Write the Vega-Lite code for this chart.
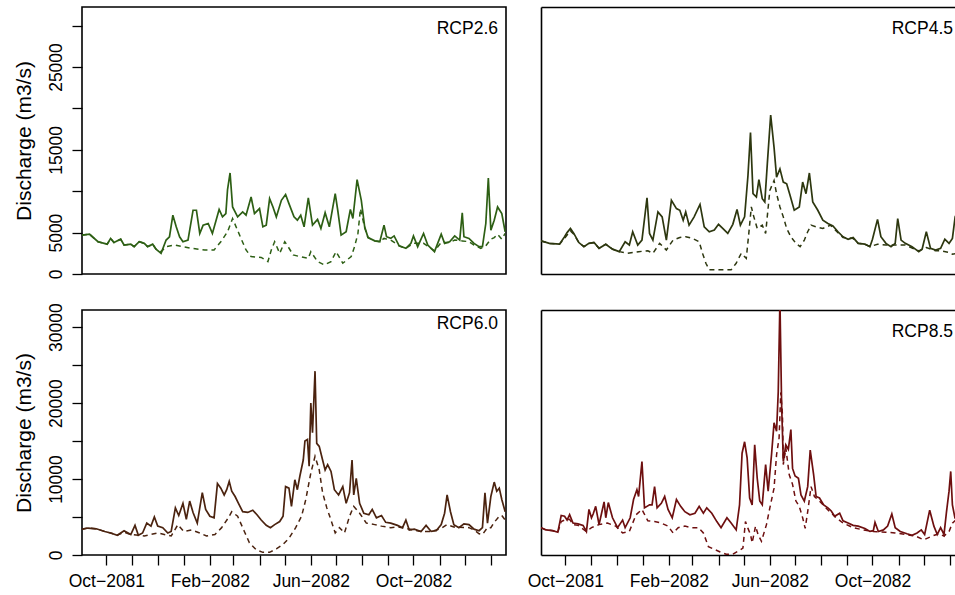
{
"$schema": "https://vega.github.io/schema/vega-lite/v6.json",
"padding": {"left": 12, "top": 6, "right": 0, "bottom": 0},
"datasets": {
"s26": [
{"d":"2081-09-02","v":4700},{"d":"2081-09-11","v":4800},{"d":"2081-09-21","v":3900},{"d":"2081-10-02","v":3600},{"d":"2081-10-06","v":4300},{"d":"2081-10-10","v":3800},{"d":"2081-10-18","v":4200},{"d":"2081-10-22","v":3500},{"d":"2081-10-30","v":3600},{"d":"2081-11-03","v":3300},{"d":"2081-11-09","v":3900},{"d":"2081-11-15","v":3700},{"d":"2081-11-19","v":3300},{"d":"2081-11-25","v":3600},{"d":"2081-11-29","v":3000},{"d":"2081-12-05","v":2500},{"d":"2081-12-11","v":4100},{"d":"2081-12-15","v":4500},{"d":"2081-12-19","v":7100},{"d":"2081-12-23","v":5700},{"d":"2081-12-27","v":4500},{"d":"2081-12-31","v":3900},
{"d":"2082-01-06","v":4100},{"d":"2082-01-12","v":7700},{"d":"2082-01-16","v":7700},{"d":"2082-01-20","v":4900},{"d":"2082-01-24","v":5900},{"d":"2082-01-30","v":6100},{"d":"2082-02-04","v":4900},{"d":"2082-02-12","v":7800},{"d":"2082-02-16","v":6900},{"d":"2082-02-20","v":7300},{"d":"2082-02-22","v":10200},{"d":"2082-02-25","v":12200},{"d":"2082-02-28","v":8100},{"d":"2082-03-06","v":6900},{"d":"2082-03-12","v":7500},{"d":"2082-03-16","v":7100},{"d":"2082-03-22","v":9300},{"d":"2082-03-26","v":7300},{"d":"2082-04-01","v":7900},{"d":"2082-04-05","v":5700},{"d":"2082-04-09","v":5900},{"d":"2082-04-13","v":9100},{"d":"2082-04-17","v":8100},{"d":"2082-04-21","v":6900},{"d":"2082-04-27","v":8900},{"d":"2082-05-02","v":9600},{"d":"2082-05-06","v":8500},{"d":"2082-05-12","v":6900},{"d":"2082-05-16","v":6500},{"d":"2082-05-20","v":7100},{"d":"2082-05-24","v":5700},{"d":"2082-05-29","v":9200},{"d":"2082-06-03","v":5900},{"d":"2082-06-09","v":6600},{"d":"2082-06-13","v":5500},{"d":"2082-06-18","v":7400},{"d":"2082-06-23","v":5700},{"d":"2082-06-30","v":9700},{"d":"2082-07-03","v":7700},{"d":"2082-07-07","v":4700},{"d":"2082-07-13","v":5100},{"d":"2082-07-18","v":7800},{"d":"2082-07-21","v":6700},{"d":"2082-07-26","v":11400},{"d":"2082-07-31","v":8900},{"d":"2082-08-04","v":5700},{"d":"2082-08-08","v":4400},{"d":"2082-08-16","v":4000},{"d":"2082-08-22","v":3900},{"d":"2082-08-27","v":5900},{"d":"2082-08-30","v":4500},{"d":"2082-09-04","v":4300},{"d":"2082-09-08","v":4600},{"d":"2082-09-14","v":3400},{"d":"2082-09-22","v":3100},{"d":"2082-09-28","v":3700},{"d":"2082-10-01","v":4600},{"d":"2082-10-06","v":3300},{"d":"2082-10-13","v":4900},{"d":"2082-10-18","v":3500},{"d":"2082-10-26","v":2700},{"d":"2082-11-03","v":4800},{"d":"2082-11-07","v":3700},{"d":"2082-11-13","v":3900},{"d":"2082-11-19","v":4600},{"d":"2082-11-25","v":4100},{"d":"2082-11-28","v":7400},{"d":"2082-11-30","v":4500},{"d":"2082-12-06","v":4300},{"d":"2082-12-12","v":3700},{"d":"2082-12-18","v":3300},{"d":"2082-12-22","v":3300},{"d":"2082-12-26","v":6100},{"d":"2082-12-29","v":11600},{"d":"2083-01-01","v":5300},{"d":"2083-01-05","v":6500},{"d":"2083-01-09","v":8100},{"d":"2083-01-14","v":7300},{"d":"2083-01-18","v":5100}
],
"d26": [
{"d":"2081-09-02","v":4700},{"d":"2081-09-11","v":4800},{"d":"2081-09-21","v":3900},{"d":"2081-10-02","v":3600},{"d":"2081-10-06","v":4300},{"d":"2081-10-10","v":3800},{"d":"2081-10-18","v":4200},{"d":"2081-10-22","v":3500},{"d":"2081-10-30","v":3600},{"d":"2081-11-03","v":3300},{"d":"2081-11-09","v":3900},{"d":"2081-11-15","v":3700},{"d":"2081-11-19","v":3300},{"d":"2081-11-25","v":3600},{"d":"2081-11-29","v":3000},{"d":"2081-12-05","v":2700},{"d":"2081-12-11","v":3300},{"d":"2081-12-21","v":3500},{"d":"2082-01-10","v":3100},{"d":"2082-01-26","v":2900},{"d":"2082-02-06","v":2900},{"d":"2082-02-14","v":3900},{"d":"2082-02-22","v":5100},{"d":"2082-02-28","v":6700},{"d":"2082-03-10","v":4300},{"d":"2082-03-16","v":2900},{"d":"2082-03-22","v":2100},{"d":"2082-04-03","v":2000},{"d":"2082-04-11","v":1500},{"d":"2082-04-15","v":2900},{"d":"2082-04-19","v":3900},{"d":"2082-04-25","v":2500},{"d":"2082-05-01","v":3900},{"d":"2082-05-05","v":3300},{"d":"2082-05-11","v":2300},{"d":"2082-05-19","v":2100},{"d":"2082-05-29","v":1900},{"d":"2082-06-01","v":2700},{"d":"2082-06-09","v":1500},{"d":"2082-06-17","v":1100},{"d":"2082-06-25","v":1500},{"d":"2082-07-01","v":2700},{"d":"2082-07-09","v":1300},{"d":"2082-07-19","v":2100},{"d":"2082-07-23","v":3300},{"d":"2082-07-27","v":4900},{"d":"2082-07-30","v":7900},{"d":"2082-08-04","v":5600},{"d":"2082-08-08","v":4400},{"d":"2082-08-16","v":4000},{"d":"2082-08-22","v":3900},{"d":"2082-08-27","v":4300},{"d":"2082-09-04","v":4100},{"d":"2082-09-14","v":3400},{"d":"2082-09-22","v":3100},{"d":"2082-10-01","v":3700},{"d":"2082-10-13","v":3700},{"d":"2082-10-26","v":2800},{"d":"2082-11-03","v":3800},{"d":"2082-11-13","v":3800},{"d":"2082-11-19","v":4100},{"d":"2082-11-28","v":4000},{"d":"2082-12-06","v":3900},{"d":"2082-12-12","v":3500},{"d":"2082-12-20","v":3100},{"d":"2082-12-26","v":3400},{"d":"2083-01-01","v":4200},{"d":"2083-01-05","v":4400},{"d":"2083-01-09","v":4800},{"d":"2083-01-14","v":4200},{"d":"2083-01-18","v":4900}
],
"s45": [
{"d":"2081-09-02","v":4000},{"d":"2081-09-12","v":3700},{"d":"2081-09-24","v":3600},{"d":"2081-09-30","v":4500},{"d":"2081-10-03","v":5000},{"d":"2081-10-07","v":5500},{"d":"2081-10-11","v":4900},{"d":"2081-10-17","v":3800},{"d":"2081-10-23","v":3300},{"d":"2081-10-29","v":3700},{"d":"2081-11-04","v":3800},{"d":"2081-11-10","v":3100},{"d":"2081-11-18","v":3600},{"d":"2081-11-26","v":3000},{"d":"2081-12-04","v":2700},{"d":"2081-12-11","v":3900},{"d":"2081-12-16","v":3500},{"d":"2081-12-20","v":5100},{"d":"2081-12-26","v":3500},{"d":"2081-12-31","v":4100},{"d":"2082-01-06","v":9200},{"d":"2082-01-09","v":4900},{"d":"2082-01-13","v":4100},{"d":"2082-01-19","v":7500},{"d":"2082-01-24","v":6900},{"d":"2082-01-29","v":4100},{"d":"2082-02-04","v":8900},{"d":"2082-02-10","v":7900},{"d":"2082-02-14","v":7700},{"d":"2082-02-18","v":6500},{"d":"2082-02-21","v":7500},{"d":"2082-02-25","v":5900},{"d":"2082-03-03","v":6900},{"d":"2082-03-10","v":8400},{"d":"2082-03-15","v":5700},{"d":"2082-03-21","v":5100},{"d":"2082-03-27","v":5300},{"d":"2082-04-01","v":6000},{"d":"2082-04-06","v":5500},{"d":"2082-04-12","v":4900},{"d":"2082-04-18","v":6000},{"d":"2082-04-23","v":7800},{"d":"2082-04-27","v":5900},{"d":"2082-05-02","v":6900},{"d":"2082-05-06","v":11900},{"d":"2082-05-09","v":17100},{"d":"2082-05-12","v":9700},{"d":"2082-05-16","v":9300},{"d":"2082-05-19","v":11400},{"d":"2082-05-23","v":9100},{"d":"2082-05-26","v":8700},{"d":"2082-05-29","v":13300},{"d":"2082-06-02","v":19200},{"d":"2082-06-06","v":15300},{"d":"2082-06-09","v":11700},{"d":"2082-06-13","v":12700},{"d":"2082-06-17","v":11100},{"d":"2082-06-21","v":10900},{"d":"2082-06-25","v":9500},{"d":"2082-06-30","v":7700},{"d":"2082-07-06","v":8100},{"d":"2082-07-10","v":11100},{"d":"2082-07-14","v":9700},{"d":"2082-07-18","v":12200},{"d":"2082-07-22","v":8700},{"d":"2082-07-28","v":7700},{"d":"2082-08-03","v":6500},{"d":"2082-08-09","v":6100},{"d":"2082-08-15","v":5800},{"d":"2082-08-21","v":5100},{"d":"2082-08-27","v":4500},{"d":"2082-09-02","v":4200},{"d":"2082-09-08","v":4400},{"d":"2082-09-14","v":3700},{"d":"2082-09-22","v":3600},{"d":"2082-09-28","v":3300},{"d":"2082-10-01","v":4200},{"d":"2082-10-07","v":6600},{"d":"2082-10-11","v":4500},{"d":"2082-10-17","v":3700},{"d":"2082-10-23","v":3300},{"d":"2082-10-28","v":3700},{"d":"2082-10-31","v":6700},{"d":"2082-11-04","v":4100},{"d":"2082-11-09","v":3700},{"d":"2082-11-17","v":3300},{"d":"2082-11-25","v":2700},{"d":"2082-11-29","v":3000},{"d":"2082-12-04","v":5100},{"d":"2082-12-09","v":3100},{"d":"2082-12-15","v":2900},{"d":"2082-12-21","v":3100},{"d":"2082-12-26","v":4200},{"d":"2082-12-31","v":3700},{"d":"2083-01-04","v":4300},{"d":"2083-01-07","v":6700},{"d":"2083-01-12","v":5500},{"d":"2083-01-18","v":5000}
],
"d45": [
{"d":"2081-09-02","v":4000},{"d":"2081-09-12","v":3700},{"d":"2081-09-24","v":3600},{"d":"2081-09-30","v":4300},{"d":"2081-10-03","v":4700},{"d":"2081-10-07","v":5200},{"d":"2081-10-11","v":4800},{"d":"2081-10-17","v":3800},{"d":"2081-10-23","v":3300},{"d":"2081-10-29","v":3700},{"d":"2081-11-04","v":3800},{"d":"2081-11-10","v":3100},{"d":"2081-11-18","v":3600},{"d":"2081-11-26","v":3000},{"d":"2081-12-04","v":2700},{"d":"2081-12-14","v":2500},{"d":"2081-12-27","v":2700},{"d":"2082-01-07","v":2800},{"d":"2082-01-13","v":2500},{"d":"2082-01-21","v":3700},{"d":"2082-01-29","v":2900},{"d":"2082-02-06","v":4100},{"d":"2082-02-14","v":4400},{"d":"2082-02-21","v":4500},{"d":"2082-03-01","v":4300},{"d":"2082-03-09","v":3900},{"d":"2082-03-13","v":2500},{"d":"2082-03-17","v":1300},{"d":"2082-03-21","v":500},{"d":"2082-03-29","v":500},{"d":"2082-04-06","v":500},{"d":"2082-04-16","v":500},{"d":"2082-04-22","v":1300},{"d":"2082-04-28","v":2500},{"d":"2082-05-04","v":1900},{"d":"2082-05-07","v":4900},{"d":"2082-05-10","v":8100},{"d":"2082-05-13","v":6900},{"d":"2082-05-17","v":5500},{"d":"2082-05-23","v":5900},{"d":"2082-05-27","v":4900},{"d":"2082-06-01","v":10100},{"d":"2082-06-06","v":11300},{"d":"2082-06-09","v":9700},{"d":"2082-06-13","v":8100},{"d":"2082-06-17","v":6900},{"d":"2082-06-21","v":5500},{"d":"2082-06-26","v":4500},{"d":"2082-07-02","v":3700},{"d":"2082-07-07","v":3300},{"d":"2082-07-12","v":4100},{"d":"2082-07-16","v":5100},{"d":"2082-07-20","v":5900},{"d":"2082-07-26","v":5700},{"d":"2082-08-03","v":5500},{"d":"2082-08-12","v":5900},{"d":"2082-08-21","v":5000},{"d":"2082-08-27","v":4400},{"d":"2082-09-08","v":4300},{"d":"2082-09-14","v":3700},{"d":"2082-09-22","v":3600},{"d":"2082-09-28","v":3300},{"d":"2082-10-07","v":3600},{"d":"2082-10-17","v":3500},{"d":"2082-10-28","v":3500},{"d":"2082-11-09","v":3500},{"d":"2082-11-25","v":2800},{"d":"2082-12-04","v":3200},{"d":"2082-12-15","v":2800},{"d":"2082-12-21","v":2800},{"d":"2082-12-31","v":2600},{"d":"2083-01-04","v":2400},{"d":"2083-01-12","v":2500},{"d":"2083-01-18","v":2600}
],
"s60": [
{"d":"2081-09-02","v":3400},{"d":"2081-09-09","v":3550},{"d":"2081-09-19","v":3450},{"d":"2081-09-29","v":3100},{"d":"2081-10-06","v":2900},{"d":"2081-10-14","v":2600},{"d":"2081-10-22","v":3200},{"d":"2081-10-30","v":2700},{"d":"2081-11-04","v":3900},{"d":"2081-11-08","v":2600},{"d":"2081-11-13","v":2900},{"d":"2081-11-18","v":4200},{"d":"2081-11-23","v":3800},{"d":"2081-11-27","v":5000},{"d":"2081-12-01","v":3800},{"d":"2081-12-07","v":3600},{"d":"2081-12-13","v":2900},{"d":"2081-12-17","v":3100},{"d":"2081-12-22","v":6200},{"d":"2081-12-26","v":5200},{"d":"2081-12-31","v":6800},{"d":"2082-01-04","v":4700},{"d":"2082-01-08","v":7100},{"d":"2082-01-12","v":5600},{"d":"2082-01-17","v":4200},{"d":"2082-01-23","v":8200},{"d":"2082-01-27","v":6000},{"d":"2082-02-01","v":5100},{"d":"2082-02-06","v":4900},{"d":"2082-02-10","v":9400},{"d":"2082-02-14","v":8800},{"d":"2082-02-18","v":7900},{"d":"2082-02-21","v":8600},{"d":"2082-02-24","v":9700},{"d":"2082-02-27","v":8400},{"d":"2082-03-03","v":7700},{"d":"2082-03-07","v":6800},{"d":"2082-03-12","v":5700},{"d":"2082-03-18","v":5600},{"d":"2082-03-24","v":5900},{"d":"2082-03-29","v":5300},{"d":"2082-04-03","v":4600},{"d":"2082-04-09","v":3900},{"d":"2082-04-14","v":3600},{"d":"2082-04-19","v":4000},{"d":"2082-04-25","v":4400},{"d":"2082-04-29","v":5100},{"d":"2082-05-02","v":9000},{"d":"2082-05-06","v":8800},{"d":"2082-05-09","v":6400},{"d":"2082-05-13","v":9900},{"d":"2082-05-16","v":8600},{"d":"2082-05-19","v":10400},{"d":"2082-05-23","v":12500},{"d":"2082-05-25","v":15000},{"d":"2082-05-28","v":15200},{"d":"2082-05-30","v":11700},{"d":"2082-06-01","v":20000},{"d":"2082-06-03","v":16100},{"d":"2082-06-06","v":24200},{"d":"2082-06-08","v":14700},{"d":"2082-06-11","v":14300},{"d":"2082-06-15","v":12500},{"d":"2082-06-18","v":11200},{"d":"2082-06-21","v":11900},{"d":"2082-06-25","v":11000},{"d":"2082-06-29","v":8600},{"d":"2082-07-04","v":7900},{"d":"2082-07-09","v":9000},{"d":"2082-07-13","v":6800},{"d":"2082-07-17","v":8200},{"d":"2082-07-20","v":12500},{"d":"2082-07-22","v":7900},{"d":"2082-07-25","v":10100},{"d":"2082-07-29","v":6800},{"d":"2082-08-03","v":5500},{"d":"2082-08-09","v":5300},{"d":"2082-08-13","v":6000},{"d":"2082-08-18","v":4900},{"d":"2082-08-24","v":5200},{"d":"2082-08-29","v":4300},{"d":"2082-09-04","v":4200},{"d":"2082-09-12","v":3900},{"d":"2082-09-18","v":3600},{"d":"2082-09-22","v":4600},{"d":"2082-09-26","v":3300},{"d":"2082-10-02","v":3400},{"d":"2082-10-10","v":3100},{"d":"2082-10-16","v":3900},{"d":"2082-10-22","v":3100},{"d":"2082-10-28","v":3200},{"d":"2082-11-03","v":4000},{"d":"2082-11-07","v":5500},{"d":"2082-11-10","v":7900},{"d":"2082-11-14","v":5700},{"d":"2082-11-18","v":4000},{"d":"2082-11-24","v":3600},{"d":"2082-11-30","v":4100},{"d":"2082-12-06","v":4000},{"d":"2082-12-12","v":3400},{"d":"2082-12-18","v":3200},{"d":"2082-12-22","v":3600},{"d":"2082-12-25","v":8200},{"d":"2082-12-28","v":4200},{"d":"2083-01-01","v":7700},{"d":"2083-01-05","v":9600},{"d":"2083-01-08","v":8400},{"d":"2083-01-11","v":8800},{"d":"2083-01-14","v":7300},{"d":"2083-01-18","v":5700}
],
"d60": [
{"d":"2081-09-02","v":3400},{"d":"2081-09-09","v":3550},{"d":"2081-09-19","v":3450},{"d":"2081-09-29","v":3100},{"d":"2081-10-06","v":2900},{"d":"2081-10-14","v":2600},{"d":"2081-10-22","v":3000},{"d":"2081-10-30","v":2700},{"d":"2081-11-08","v":2600},{"d":"2081-11-15","v":2500},{"d":"2081-12-01","v":2900},{"d":"2081-12-17","v":2500},{"d":"2081-12-25","v":4000},{"d":"2082-01-01","v":3100},{"d":"2082-01-10","v":3300},{"d":"2082-01-20","v":2900},{"d":"2082-01-28","v":2500},{"d":"2082-02-07","v":2700},{"d":"2082-02-15","v":3600},{"d":"2082-02-23","v":4900},{"d":"2082-02-27","v":5700},{"d":"2082-03-06","v":5100},{"d":"2082-03-14","v":3100},{"d":"2082-03-20","v":1600},{"d":"2082-03-28","v":700},{"d":"2082-04-05","v":350},{"d":"2082-04-13","v":350},{"d":"2082-04-21","v":800},{"d":"2082-04-29","v":1400},{"d":"2082-05-06","v":2200},{"d":"2082-05-14","v":3600},{"d":"2082-05-21","v":5100},{"d":"2082-05-26","v":7300},{"d":"2082-06-01","v":10800},{"d":"2082-06-06","v":13000},{"d":"2082-06-11","v":11200},{"d":"2082-06-15","v":8200},{"d":"2082-06-20","v":6200},{"d":"2082-06-25","v":4600},{"d":"2082-06-30","v":2900},{"d":"2082-07-05","v":3600},{"d":"2082-07-11","v":2900},{"d":"2082-07-17","v":5100},{"d":"2082-07-22","v":6400},{"d":"2082-07-29","v":5500},{"d":"2082-08-06","v":4200},{"d":"2082-08-16","v":4000},{"d":"2082-08-24","v":3800},{"d":"2082-09-04","v":3600},{"d":"2082-09-12","v":3700},{"d":"2082-09-22","v":3500},{"d":"2082-10-10","v":3100},{"d":"2082-10-22","v":3100},{"d":"2082-11-03","v":3500},{"d":"2082-11-10","v":4000},{"d":"2082-11-18","v":3700},{"d":"2082-12-06","v":3600},{"d":"2082-12-12","v":3300},{"d":"2082-12-18","v":2800},{"d":"2082-12-22","v":2700},{"d":"2082-12-28","v":3600},{"d":"2083-01-01","v":3600},{"d":"2083-01-05","v":4300},{"d":"2083-01-11","v":5100},{"d":"2083-01-14","v":5200},{"d":"2083-01-18","v":4600}
],
"s85": [
{"d":"2081-09-02","v":3600},{"d":"2081-09-08","v":3300},{"d":"2081-09-16","v":3200},{"d":"2081-09-22","v":3000},{"d":"2081-09-26","v":5200},{"d":"2081-09-30","v":5100},{"d":"2081-10-03","v":4600},{"d":"2081-10-06","v":5300},{"d":"2081-10-10","v":4200},{"d":"2081-10-16","v":4100},{"d":"2081-10-22","v":3900},{"d":"2081-10-26","v":3100},{"d":"2081-10-29","v":6000},{"d":"2081-11-01","v":4900},{"d":"2081-11-03","v":5400},{"d":"2081-11-06","v":6400},{"d":"2081-11-10","v":4000},{"d":"2081-11-13","v":5500},{"d":"2081-11-16","v":7000},{"d":"2081-11-18","v":4900},{"d":"2081-11-21","v":6900},{"d":"2081-11-26","v":4900},{"d":"2081-12-02","v":3600},{"d":"2081-12-08","v":4600},{"d":"2081-12-11","v":3600},{"d":"2081-12-17","v":4900},{"d":"2081-12-21","v":7300},{"d":"2081-12-25","v":8600},{"d":"2081-12-27","v":7700},{"d":"2081-12-31","v":12300},{"d":"2082-01-03","v":6200},{"d":"2082-01-09","v":6600},{"d":"2082-01-12","v":6600},{"d":"2082-01-15","v":9000},{"d":"2082-01-18","v":6200},{"d":"2082-01-23","v":6800},{"d":"2082-01-27","v":7700},{"d":"2082-01-31","v":6000},{"d":"2082-02-05","v":4900},{"d":"2082-02-10","v":7300},{"d":"2082-02-15","v":6400},{"d":"2082-02-20","v":5700},{"d":"2082-02-26","v":5300},{"d":"2082-03-04","v":5500},{"d":"2082-03-09","v":6400},{"d":"2082-03-14","v":5500},{"d":"2082-03-18","v":6200},{"d":"2082-03-24","v":5500},{"d":"2082-03-30","v":4400},{"d":"2082-04-04","v":3600},{"d":"2082-04-11","v":4900},{"d":"2082-04-16","v":4200},{"d":"2082-04-22","v":3300},{"d":"2082-04-26","v":6600},{"d":"2082-04-29","v":13400},{"d":"2082-05-02","v":14900},{"d":"2082-05-05","v":12800},{"d":"2082-05-08","v":7500},{"d":"2082-05-11","v":6600},{"d":"2082-05-14","v":14500},{"d":"2082-05-17","v":10100},{"d":"2082-05-20","v":7100},{"d":"2082-05-23","v":6600},{"d":"2082-05-27","v":11900},{"d":"2082-05-30","v":8400},{"d":"2082-06-03","v":13200},{"d":"2082-06-06","v":17400},{"d":"2082-06-09","v":16300},{"d":"2082-06-11","v":21500},{"d":"2082-06-13","v":33500},{"d":"2082-06-15","v":19800},{"d":"2082-06-17","v":12300},{"d":"2082-06-20","v":14500},{"d":"2082-06-23","v":13900},{"d":"2082-06-26","v":16500},{"d":"2082-06-28","v":11400},{"d":"2082-07-01","v":10400},{"d":"2082-07-05","v":10100},{"d":"2082-07-08","v":7900},{"d":"2082-07-12","v":7100},{"d":"2082-07-16","v":9000},{"d":"2082-07-19","v":13800},{"d":"2082-07-23","v":10600},{"d":"2082-07-26","v":7700},{"d":"2082-07-30","v":7500},{"d":"2082-08-04","v":6600},{"d":"2082-08-09","v":6200},{"d":"2082-08-13","v":5800},{"d":"2082-08-17","v":5100},{"d":"2082-08-23","v":5500},{"d":"2082-08-27","v":4500},{"d":"2082-09-02","v":4200},{"d":"2082-09-08","v":3900},{"d":"2082-09-14","v":3800},{"d":"2082-09-22","v":3500},{"d":"2082-09-28","v":3100},{"d":"2082-10-02","v":3200},{"d":"2082-10-04","v":4300},{"d":"2082-10-08","v":3100},{"d":"2082-10-14","v":3300},{"d":"2082-10-19","v":3800},{"d":"2082-10-24","v":5400},{"d":"2082-10-28","v":3600},{"d":"2082-11-03","v":3100},{"d":"2082-11-11","v":2800},{"d":"2082-11-17","v":2600},{"d":"2082-11-23","v":2900},{"d":"2082-11-28","v":3300},{"d":"2082-12-02","v":2700},{"d":"2082-12-08","v":5900},{"d":"2082-12-13","v":3800},{"d":"2082-12-17","v":2700},{"d":"2082-12-21","v":3600},{"d":"2082-12-25","v":2700},{"d":"2082-12-28","v":5700},{"d":"2082-12-31","v":8400},{"d":"2083-01-02","v":11000},{"d":"2083-01-04","v":6600},{"d":"2083-01-07","v":4900},{"d":"2083-01-12","v":5000},{"d":"2083-01-18","v":4500}
],
"d85": [
{"d":"2081-09-02","v":3600},{"d":"2081-09-08","v":3300},{"d":"2081-09-16","v":3200},{"d":"2081-09-22","v":3000},{"d":"2081-09-26","v":4400},{"d":"2081-09-30","v":4600},{"d":"2081-10-06","v":4700},{"d":"2081-10-10","v":4000},{"d":"2081-10-16","v":3900},{"d":"2081-10-26","v":3100},{"d":"2081-11-01","v":3600},{"d":"2081-11-10","v":4000},{"d":"2081-11-20","v":4200},{"d":"2081-11-30","v":3800},{"d":"2081-12-08","v":2900},{"d":"2081-12-16","v":3100},{"d":"2081-12-24","v":5300},{"d":"2081-12-31","v":6000},{"d":"2082-01-07","v":4500},{"d":"2082-01-15","v":4400},{"d":"2082-01-23","v":4200},{"d":"2082-01-31","v":3800},{"d":"2082-02-06","v":2900},{"d":"2082-02-12","v":3600},{"d":"2082-02-20","v":3800},{"d":"2082-02-28","v":3600},{"d":"2082-03-08","v":3600},{"d":"2082-03-14","v":2900},{"d":"2082-03-20","v":1100},{"d":"2082-03-26","v":800},{"d":"2082-04-03","v":400},{"d":"2082-04-10","v":100},{"d":"2082-04-18","v":100},{"d":"2082-04-24","v":500},{"d":"2082-04-30","v":900},{"d":"2082-05-03","v":4400},{"d":"2082-05-06","v":3500},{"d":"2082-05-09","v":2700},{"d":"2082-05-11","v":1600},{"d":"2082-05-15","v":3800},{"d":"2082-05-18","v":2700},{"d":"2082-05-22","v":1800},{"d":"2082-05-28","v":4000},{"d":"2082-06-01","v":6200},{"d":"2082-06-06","v":8800},{"d":"2082-06-09","v":13200},{"d":"2082-06-12","v":15400},{"d":"2082-06-14","v":21400},{"d":"2082-06-16","v":18500},{"d":"2082-06-17","v":11900},{"d":"2082-06-20","v":14100},{"d":"2082-06-24","v":10600},{"d":"2082-06-28","v":9300},{"d":"2082-07-02","v":7100},{"d":"2082-07-06","v":6400},{"d":"2082-07-10","v":4900},{"d":"2082-07-13","v":3500},{"d":"2082-07-16","v":5700},{"d":"2082-07-20","v":9000},{"d":"2082-07-24","v":7700},{"d":"2082-07-30","v":7100},{"d":"2082-08-05","v":6400},{"d":"2082-08-11","v":5700},{"d":"2082-08-19","v":4900},{"d":"2082-08-27","v":4200},{"d":"2082-09-08","v":3600},{"d":"2082-09-20","v":3300},{"d":"2082-10-02","v":3100},{"d":"2082-10-17","v":3000},{"d":"2082-10-28","v":2900},{"d":"2082-11-09","v":2700},{"d":"2082-11-21","v":2500},{"d":"2082-12-01","v":2000},{"d":"2082-12-11","v":2500},{"d":"2082-12-19","v":2800},{"d":"2082-12-25","v":2500},{"d":"2082-12-31","v":3100},{"d":"2083-01-04","v":4200},{"d":"2083-01-08","v":4600},{"d":"2083-01-12","v":4400},{"d":"2083-01-18","v":4000}
]
},
"concat": [
{
"width": 424, "height": 267,
"title": {"text": "RCP2.6", "offset": -30, "dx": -8},
"encoding": {
"x": {"field": "d", "type": "temporal", "scale": {"type": "utc", "nice": false, "domain": [{"year": 2081, "month": 9, "date": 2, "utc": true}, {"year": 2083, "month": 1, "date": 19, "utc": true}]}, "axis": null},
"y": {"field": "v", "type": "quantitative", "scale": {"domain": [0, 32250], "nice": false}, "axis": {"title": "Discharge (m3/s)", "values": [0, 5000, 10000, 15000, 20000, 25000, 30000], "format": "d", "labelExpr": "datum.value == 0 || datum.value % 10000 == 5000 ? datum.label : ''"}}
},
"layer": [
{"data": {"name": "d26"}, "mark": {"type": "line", "color": "#2d5f14", "strokeWidth": 1.5, "strokeDash": [5, 4], "clip": true}},
{"data": {"name": "s26"}, "mark": {"type": "line", "color": "#2d5f14", "strokeWidth": 1.7, "clip": true}}
]
},
{
"width": 414, "height": 267,
"view": {"stroke": null},
"title": {"text": "RCP4.5", "offset": -30, "dx": -2},
"encoding": {
"y": {"field": "v", "type": "quantitative", "scale": {"domain": [0, 32250], "nice": false}, "axis": {"domain": true, "ticks": false, "labels": false, "title": null}}
},
"layer": [
{"data": {"name": "d45"}, "mark": {"type": "line", "color": "#2d370f", "strokeWidth": 1.5, "strokeDash": [5, 4], "clip": true},
 "encoding": {"x": {"field": "d", "type": "temporal", "scale": {"type": "utc", "nice": false, "domain": [{"year": 2081, "month": 9, "date": 2, "utc": true}, {"year": 2083, "month": 1, "date": 7, "hours": 2, "utc": true}]}, "axis": {"orient": "top", "domain": true, "ticks": false, "labels": false, "title": null}}}},
{"data": {"name": "s45"}, "mark": {"type": "line", "color": "#2d370f", "strokeWidth": 1.7, "clip": true},
 "encoding": {"x": {"field": "d", "type": "temporal", "scale": {"type": "utc", "nice": false, "domain": [{"year": 2081, "month": 9, "date": 2, "utc": true}, {"year": 2083, "month": 1, "date": 7, "hours": 2, "utc": true}]}, "axis": {"orient": "bottom", "domain": true, "ticks": false, "labels": false, "title": null}}}}
],
"resolve": {"axis": {"x": "independent"}}
},
{
"width": 424, "height": 245,
"title": {"text": "RCP6.0", "offset": -30, "dx": -8},
"encoding": {
"x": {"field": "d", "type": "temporal", "scale": {"type": "utc", "nice": false, "domain": [{"year": 2081, "month": 9, "date": 2, "utc": true}, {"year": 2083, "month": 1, "date": 19, "utc": true}]}, "axis": {"title": null, "tickCount": {"interval": "month", "step": 1}, "labelExpr": "utcmonth(datum.value) % 4 == 1 ? utcFormat(datum.value, '%b\u2212%Y') : ''"}},
"y": {"field": "v", "type": "quantitative", "scale": {"domain": [0, 32250], "nice": false}, "axis": {"title": "Discharge (m3/s)", "values": [0, 5000, 10000, 15000, 20000, 25000, 30000], "format": "d", "labelExpr": "datum.value % 10000 == 0 ? datum.label : ''"}}
},
"layer": [
{"data": {"name": "d60"}, "mark": {"type": "line", "color": "#4b230f", "strokeWidth": 1.5, "strokeDash": [5, 4], "clip": true}},
{"data": {"name": "s60"}, "mark": {"type": "line", "color": "#4b230f", "strokeWidth": 1.7, "clip": true}}
]
},
{
"width": 414, "height": 245,
"view": {"stroke": null},
"title": {"text": "RCP8.5", "offset": -30, "dx": -2},
"encoding": {
"y": {"field": "v", "type": "quantitative", "scale": {"domain": [0, 32250], "nice": false}, "axis": {"domain": true, "ticks": false, "labels": false, "title": null}}
},
"layer": [
{"data": {"name": "d85"}, "mark": {"type": "line", "color": "#6e0f0f", "strokeWidth": 1.5, "strokeDash": [5, 4], "clip": true},
 "encoding": {"x": {"field": "d", "type": "temporal", "scale": {"type": "utc", "nice": false, "domain": [{"year": 2081, "month": 9, "date": 2, "utc": true}, {"year": 2083, "month": 1, "date": 7, "hours": 2, "utc": true}]}, "axis": {"orient": "top", "domain": true, "ticks": false, "labels": false, "title": null}}}},
{"data": {"name": "s85"}, "mark": {"type": "line", "color": "#6e0f0f", "strokeWidth": 1.7, "clip": true},
 "encoding": {"x": {"field": "d", "type": "temporal", "scale": {"type": "utc", "nice": false, "domain": [{"year": 2081, "month": 9, "date": 2, "utc": true}, {"year": 2083, "month": 1, "date": 7, "hours": 2, "utc": true}]}, "axis": {"orient": "bottom", "domain": true, "title": null, "tickCount": {"interval": "month", "step": 1}, "labelExpr": "utcmonth(datum.value) % 4 == 1 ? utcFormat(datum.value, '%b\u2212%Y') : ''"}}}}
],
"resolve": {"axis": {"x": "independent"}}
}
],
"columns": 2,
"bounds": "flush",
"align": "each",
"spacing": {"row": 36, "column": 35},
"config": {
"font": "Liberation Sans",
"view": {"stroke": "black", "strokeWidth": 1.6},
"axis": {"grid": false, "domain": false, "domainColor": "black", "domainWidth": 1.6, "tickColor": "black", "tickWidth": 1.3, "tickSize": 10, "labelColor": "black", "labelFont": "Liberation Sans", "labelFontSize": 17.5, "titleFont": "Liberation Sans", "titleFontSize": 21, "titleFontWeight": "normal", "titleColor": "black", "labelFlush": false, "labelOverlap": false, "labelBound": false},
"axisY": {"labelAngle": -90, "labelAlign": "center", "labelBaseline": "bottom", "labelPadding": 7, "titlePadding": 13},
"axisX": {"labelPadding": 7.5},
"title": {"font": "Liberation Sans", "fontSize": 17.5, "fontWeight": "normal", "color": "black", "anchor": "end", "frame": "group"}
}
}
